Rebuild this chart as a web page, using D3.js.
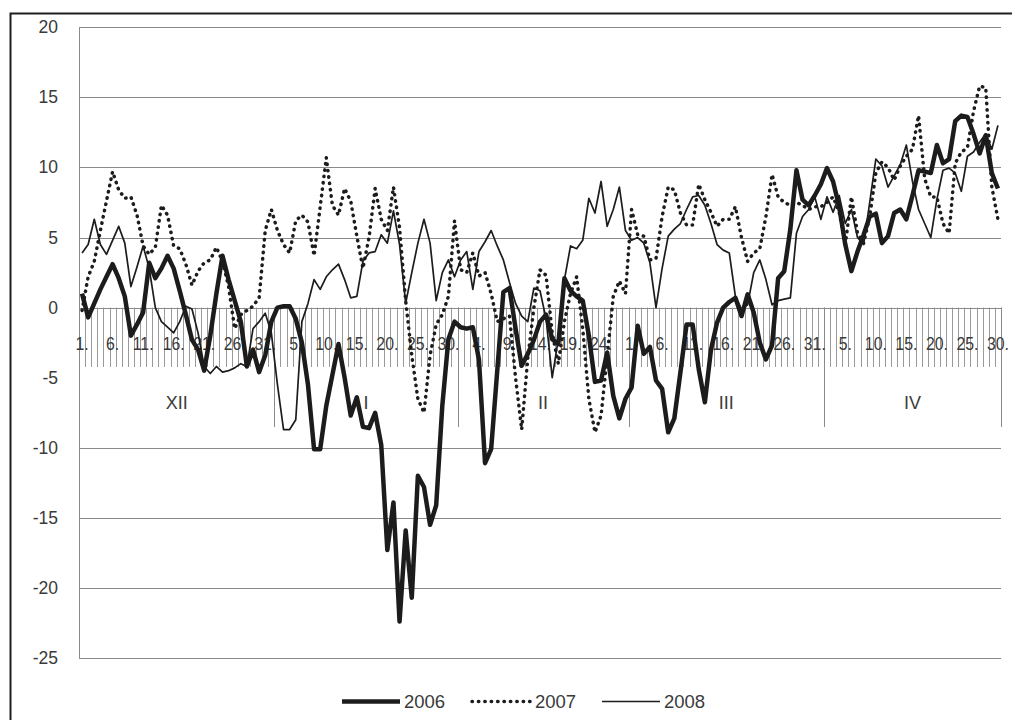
<!DOCTYPE html>
<html><head><meta charset="utf-8">
<script src="https://cdn.jsdelivr.net/npm/d3@7"></script>
<style>
body{margin:0;background:#fff}
svg{display:block}
text{font-family:"Liberation Sans",Arial,sans-serif;fill:#3a3a3a}
</style>
</head><body>
<svg id="chart" width="1012" height="720"></svg>
<script>
// ---- data ----
const monthLengths = [31, 31, 28, 31, 30];            // Dec .. Apr
const monthNames   = ["XII", "I", "II", "III", "IV"];
const monthGroupStart = [0, 32, 62, 90, 122, 151];     // group boundaries as drawn on the multi-level axis
const dayLabels = [];
monthLengths.forEach(n => { for (let d = 1; d <= n; d++) dayLabels.push(d + "."); });
const categories = d3.range(dayLabels.length);
const yTicks = [20, 15, 10, 5, 0, -5, -10, -15, -20, -25];
const seriesNames = ["2006", "2007", "2008"];

const v2006 = [1.0,-0.7,0.3,1.3,2.2,3.1,2.1,0.8,-2.0,-1.2,-0.35,3.2,2.1,2.8,3.7,2.8,1.2,-0.5,-2.3,-3.0,
-4.5,-2.0,1.0,3.7,2.0,0.5,-1.0,-4.2,-3.0,-4.6,-3.4,-1.0,0.0,0.1,0.1,-0.8,-2.5,-5.5,-10.1,-10.1,
-7.0,-4.8,-2.6,-5.0,-7.7,-6.4,-8.5,-8.6,-7.5,-9.8,-17.3,-13.9,-22.4,-15.9,-20.7,-12.0,-12.8,-15.5,-14.1,-7.0,
-2.25,-1.0,-1.4,-1.5,-1.4,-3.7,-11.1,-10.1,-4.5,1.1,1.4,-1.5,-4.15,-3.3,-2.3,-1.0,-0.5,-2.25,-2.6,2.1,
1.2,0.8,0.5,-2.0,-5.3,-5.2,-3.2,-6.3,-7.9,-6.5,-5.7,-1.3,-3.3,-2.8,-5.2,-5.8,-8.9,-7.9,-4.6,-1.2,
-1.2,-4.4,-6.75,-3.0,-1.07,0.0,0.4,0.7,-0.6,0.95,-0.35,-2.5,-3.7,-2.7,2.1,2.6,5.6,9.8,7.7,7.3,
8.0,8.8,9.95,9.0,7.2,4.5,2.6,4.0,5.2,6.5,6.7,4.6,5.1,6.75,7.0,6.3,8.0,9.8,9.7,9.6,
11.6,10.3,10.6,13.3,13.7,13.6,12.4,11.0,12.3,9.6,8.5];

const v2007 = [-0.2,2.2,3.3,5.5,7.6,9.7,8.4,7.8,7.9,6.6,4.4,3.8,4.3,7.3,6.6,4.4,4.2,3.1,1.6,2.6,
3.2,3.4,4.3,3.3,1.5,-1.5,-0.5,-0.2,0.1,0.7,5.5,7.0,5.5,4.5,3.9,6.2,6.6,6.1,3.7,7.2,
10.7,7.3,6.6,8.5,7.6,5.1,2.8,5.0,8.5,6.3,5.5,8.6,5.7,0.5,-3.4,-6.5,-7.5,-3.4,-1.2,-0.5,
0.8,6.2,2.7,2.5,3.9,2.25,2.5,1.0,-1.0,-0.8,-0.6,-5.0,-8.7,-3.6,0.0,2.7,2.3,-1.8,-4.0,-1.0,
1.0,2.2,-1.5,-6.5,-8.9,-7.7,-3.5,0.8,1.9,1.0,7.0,5.2,5.1,3.4,3.5,6.5,8.6,8.4,6.75,5.9,
5.9,8.8,7.7,6.8,5.8,6.3,6.3,7.2,5.0,3.3,3.9,4.2,6.5,9.5,7.9,7.5,7.3,7.5,7.3,7.0,
7.2,7.2,7.5,7.9,6.8,4.5,7.9,5.3,4.6,6.5,9.6,10.4,10.0,9.1,10.1,10.8,11.3,13.7,9.2,7.9,
7.9,6.0,5.3,10.3,11.1,11.4,14.0,15.8,15.7,8.6,6.3];

const v2008 = [3.9,4.5,6.3,4.5,3.8,4.8,5.8,4.6,1.5,2.9,4.4,2.8,0.0,-1.0,-1.4,-1.8,-1.0,0.1,-0.1,-1.8,
-4.2,-4.7,-4.2,-4.6,-4.5,-4.3,-4.0,-4.2,-1.5,-1.0,-0.4,-1.8,-5.5,-8.7,-8.7,-8.0,-1.0,0.3,2.0,1.3,
2.2,2.7,3.1,2.0,0.7,0.8,3.3,3.9,4.0,5.2,4.6,6.9,4.5,0.3,2.5,4.6,6.3,4.6,0.5,2.5,
3.4,2.2,3.4,4.0,1.3,4.0,4.7,5.5,4.4,3.4,1.8,0.3,-0.6,-1.0,1.4,1.2,-0.8,-5.0,-2.25,2.0,
4.4,4.2,4.8,7.8,6.75,9.0,5.8,7.0,8.6,5.5,4.8,5.0,4.6,3.2,0.0,2.8,5.1,5.6,6.0,7.0,
7.9,8.0,7.3,6.0,4.5,4.1,3.9,0.8,-0.1,0.2,2.5,3.4,2.0,0.2,0.5,0.6,0.7,5.3,6.5,7.0,
7.9,6.3,7.9,6.8,8.0,6.0,7.0,5.0,4.5,7.5,10.6,10.1,8.6,9.4,10.2,11.6,9.0,7.0,6.0,5.0,
7.7,9.8,9.95,9.6,8.3,10.8,11.1,11.8,12.4,11.3,13.0];

// ---- layout ----
const svg = d3.select("#chart");
const L = 79, R = 1001, T = 27.3, B = 658;
const x = d3.scaleBand().domain(categories).range([L, R]).padding(0);
const bw = x.bandwidth();
const xc = i => x(i) + bw / 2;
const xb = k => L + k * bw;           // category boundary k
const y = d3.scaleLinear().domain([-25, 20]).range([B, T]);
const y0 = y(0);
const tickBottom = 367, groupBottom = 427;

svg.append("rect").attr("width", 1012).attr("height", 720).attr("fill", "#fff");
svg.append("rect").attr("x", 10.5).attr("y", 13.5).attr("width", 1020).attr("height", 720)
  .attr("fill", "none").attr("stroke", "#1e1e1e").attr("stroke-width", 2);

// gridlines
svg.append("g").selectAll("line").data(yTicks).join("line")
  .attr("x1", L).attr("x2", R)
  .attr("y1", d => Math.round(y(d)) + 0.5).attr("y2", d => Math.round(y(d)) + 0.5)
  .attr("stroke", "#8a8a8a").attr("stroke-width", 1);

// category label band (opaque, hides the grid behind it)
svg.append("rect").attr("x", L + 1).attr("y", Math.round(y0) + 1)
  .attr("width", R - L - 1).attr("height", groupBottom - Math.round(y0) - 1).attr("fill", "#fff");

// y axis labels
svg.append("g").selectAll("text").data(yTicks).join("text")
  .attr("x", 58).attr("y", d => y(d) + 6).attr("text-anchor", "end")
  .style("font-size", "17.5px").text(d => d);

// day tick marks
svg.append("g").selectAll("line").data(d3.range(categories.length + 1)).join("line")
  .attr("x1", k => Math.round(xb(k)) + 0.5).attr("x2", k => Math.round(xb(k)) + 0.5)
  .attr("y1", y0).attr("y2", tickBottom)
  .attr("stroke", "#9a9a9a").attr("stroke-width", 1);

// month separators
svg.append("g").selectAll("line").data(monthGroupStart).join("line")
  .attr("x1", k => Math.round(xb(k)) + 0.5).attr("x2", k => Math.round(xb(k)) + 0.5)
  .attr("y1", y0).attr("y2", groupBottom)
  .attr("stroke", "#8a8a8a").attr("stroke-width", 1);

// axis lines
svg.append("line").attr("x1", L).attr("x2", R).attr("y1", Math.round(y0) + 0.5).attr("y2", Math.round(y0) + 0.5)
  .attr("stroke", "#8a8a8a");
svg.append("line").attr("x1", L + 0.5).attr("x2", L + 0.5).attr("y1", y(20)).attr("y2", y(-25))
  .attr("stroke", "#8a8a8a");

// day labels (every 5th category)
svg.append("g").selectAll("text").data(categories.filter(i => i % 5 === 0)).join("text")
  .attr("transform", i => `translate(${xc(i)},349.5) scale(0.88,1)`)
  .attr("text-anchor", "middle").style("font-size", "18px").text(i => dayLabels[i]);

// month labels
svg.append("g").selectAll("text").data(monthNames).join("text")
  .attr("x", (d, j) => (xb(monthGroupStart[j]) + xb(monthGroupStart[j + 1])) / 2)
  .attr("y", 409).attr("text-anchor", "middle").style("font-size", "18px").text(d => d);

// series
const line = d3.line().x((d, i) => xc(i)).y(d => y(d));
const styles = [
  {w: 4.5, dash: null, cap: "butt"},
  {w: 3.5, dash: "0.4 6", cap: "round"},
  {w: 1.7, dash: null, cap: "butt"}
];
[v2006, v2007, v2008].forEach((vals, s) => {
  svg.append("path").datum(vals).attr("d", line).attr("fill", "none")
    .attr("stroke", "#1c1c1c").attr("stroke-width", styles[s].w)
    .attr("stroke-linejoin", "round").attr("stroke-linecap", styles[s].cap)
    .attr("stroke-dasharray", styles[s].dash);
});

// legend
const legX = [342, 472, 602], legY = 701.5;
seriesNames.forEach((n, s) => {
  svg.append("line").attr("x1", legX[s]).attr("x2", legX[s] + 58).attr("y1", legY).attr("y2", legY)
    .attr("stroke", "#1c1c1c").attr("stroke-width", styles[s].w)
    .attr("stroke-linecap", styles[s].cap).attr("stroke-dasharray", styles[s].dash);
  svg.append("text").attr("x", legX[s] + (s === 1 ? 63 : 62)).attr("y", legY + 6.5)
    .style("font-size", "18.5px").text(n);
});
</script>
</body></html>
